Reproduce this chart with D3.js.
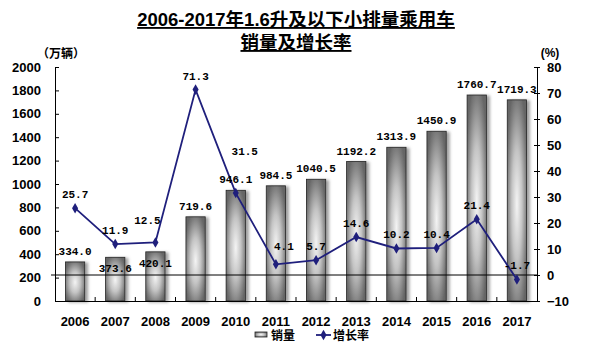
<!DOCTYPE html>
<html>
<head>
<meta charset="utf-8">
<script src="https://cdn.jsdelivr.net/npm/d3@7"></script>
<style>
  html, body { margin: 0; padding: 0; background: #fff; }
  svg { display: block; }
</style>
</head>
<body>
<div id="chart"></div>
<script>
// data
const years = ['2006', '2007', '2008', '2009', '2010', '2011', '2012', '2013', '2014', '2015', '2016', '2017'];
const sales = [334.0, 373.6, 420.1, 719.6, 946.1, 984.5, 1040.5, 1192.2, 1313.9, 1450.9, 1760.7, 1719.3];
const growth = [25.7, 11.9, 12.5, 71.3, 31.5, 4.1, 5.7, 14.6, 10.2, 10.4, 21.4, -1.7];
const leftTicks = [0, 200, 400, 600, 800, 1000, 1200, 1400, 1600, 1800, 2000];
const rightTicks = [-10, 0, 10, 20, 30, 40, 50, 60, 70, 80];

const W = 595, H = 351;
const PLOT = { left: 55, right: 537, top: 67, bottom: 301 };
const LINE_COLOR = '#1f1f7c';
const NUM_FONT = '"Liberation Mono", "DejaVu Sans Mono", monospace';
const TXT_FONT = '"Liberation Sans", Arial, "Noto Sans CJK SC", sans-serif';

// hand placed labels in the original (excel) — small nudges
const SALES_INSIDE = new Set(['2007', '2008']);
const GROWTH_NUDGE = { '2008': [-8, -9], '2010': [9, -28], '2011': [8, -4] };

const svg = d3.select('#chart').append('svg').attr('width', W).attr('height', H);

const defs = svg.append('defs');
const grad = defs.append('radialGradient').attr('id', 'barGrad')
  .attr('cx', '50%').attr('cy', '52%').attr('r', '60%');
grad.append('stop').attr('offset', '0%').attr('stop-color', '#f4f4f4');
grad.append('stop').attr('offset', '45%').attr('stop-color', '#c4c4c4');
grad.append('stop').attr('offset', '85%').attr('stop-color', '#7c7c7c');
grad.append('stop').attr('offset', '100%').attr('stop-color', '#666');

const shadow = defs.append('filter').attr('id', 'shadow')
  .attr('x', '-30%').attr('y', '-10%').attr('width', '180%').attr('height', '130%');
shadow.append('feDropShadow').attr('dx', 3).attr('dy', 1).attr('stdDeviation', 1.8)
  .attr('flood-color', '#777').attr('flood-opacity', 0.7);

// title
const title = svg.append('g').attr('font-family', TXT_FONT).attr('font-weight', 'bold')
  .attr('font-size', '18.5px').attr('text-anchor', 'middle').attr('fill', '#000');
title.append('text').attr('x', 296).attr('y', 26).attr('text-decoration', 'underline')
  .text('2006-2017年1.6升及以下小排量乘用车');
title.append('text').attr('x', 296).attr('y', 49).attr('text-decoration', 'underline')
  .text('销量及增长率');

const x = d3.scaleBand().domain(years).range([PLOT.left, PLOT.right]).padding(0);
const yL = d3.scaleLinear().domain([0, 2000]).range([PLOT.bottom, PLOT.top]);
const yR = d3.scaleLinear().domain([-10, 80]).range([PLOT.bottom, PLOT.top]);
const barW = x.bandwidth() * 0.48;
const cx = d => x(d) + x.bandwidth() / 2;

// bars
svg.append('g').selectAll('rect').data(years).join('rect')
  .attr('x', (d) => cx(d) - barW / 2)
  .attr('y', (d, i) => yL(sales[i]))
  .attr('width', barW)
  .attr('height', (d, i) => yL(0) - yL(sales[i]))
  .attr('fill', 'url(#barGrad)')
  .attr('stroke', '#222')
  .attr('stroke-width', 0.8)
  .attr('filter', 'url(#shadow)');

// zero line of the right axis
svg.append('line')
  .attr('x1', PLOT.left - 4).attr('x2', PLOT.right)
  .attr('y1', yR(0)).attr('y2', yR(0))
  .attr('stroke', '#000').attr('stroke-width', 1);

// axes
const axisFont = g => g.selectAll('text')
  .attr('font-family', TXT_FONT).attr('font-weight', 'bold')
  .attr('font-size', '13px').attr('fill', '#000');

const leftAxis = svg.append('g').attr('transform', `translate(${PLOT.left},0)`)
  .call(d3.axisLeft(yL).tickValues(leftTicks).tickFormat(d3.format('d'))
    .tickSizeInner(-4).tickSizeOuter(0).tickPadding(14));
leftAxis.call(axisFont);
leftAxis.selectAll('line, path').attr('stroke', '#000');

const rightAxis = svg.append('g').attr('transform', `translate(${PLOT.right},0)`)
  .call(d3.axisRight(yR).tickValues(rightTicks).tickFormat(d3.format('d'))
    .tickSizeOuter(0).tickSizeInner(3).tickPadding(7));
rightAxis.call(axisFont);
rightAxis.selectAll('line, path').attr('stroke', '#000');
rightAxis.selectAll('.tick line').attr('x1', -3);

const bottomAxis = svg.append('g').attr('transform', `translate(0,${PLOT.bottom})`)
  .call(d3.axisBottom(x).tickSize(0).tickPadding(16));
bottomAxis.call(axisFont);
bottomAxis.selectAll('path').attr('stroke', '#000');
// small category separators pointing up
svg.append('g').selectAll('line').data(years.slice(1)).join('line')
  .attr('x1', d => x(d)).attr('x2', d => x(d))
  .attr('y1', PLOT.bottom).attr('y2', PLOT.bottom - 4)
  .attr('stroke', '#000');

// unit labels
svg.append('text').attr('x', 61).attr('y', 58).attr('text-anchor', 'middle')
  .attr('font-family', TXT_FONT).attr('font-weight', 'bold').attr('font-size', '12px')
  .text('（万辆）');
svg.append('text').attr('x', 550).attr('y', 57).attr('text-anchor', 'middle')
  .attr('font-family', TXT_FONT).attr('font-weight', 'bold').attr('font-size', '12px')
  .text('(%)');

// growth line
const line = d3.line().x((d, i) => cx(years[i])).y(d => yR(d));
svg.append('path').datum(growth)
  .attr('d', line).attr('fill', 'none')
  .attr('stroke', LINE_COLOR).attr('stroke-width', 1.8);
const diamond = d3.symbol().type(d3.symbolDiamond).size(32);
svg.append('g').selectAll('path').data(growth).join('path')
  .attr('transform', (d, i) => `translate(${cx(years[i])},${yR(d)})`)
  .attr('d', diamond).attr('fill', LINE_COLOR);

// bar labels
const labels = svg.append('g').attr('font-family', NUM_FONT).attr('font-weight', 'bold')
  .attr('font-size', '11px').attr('text-anchor', 'middle').attr('fill', '#000');
labels.selectAll('text.sales').data(years).join('text')
  .attr('class', 'sales')
  .attr('x', d => cx(d))
  .attr('y', (d, i) => yL(sales[i]) + (SALES_INSIDE.has(d) ? 15 : -7))
  .text((d, i) => sales[i].toFixed(1));

// growth labels
labels.selectAll('text.growth').data(years).join('text')
  .attr('class', 'growth')
  .attr('x', d => cx(d) + (GROWTH_NUDGE[d] ? GROWTH_NUDGE[d][0] : 0))
  .attr('y', (d, i) => yR(growth[i]) - 10 + (GROWTH_NUDGE[d] ? GROWTH_NUDGE[d][1] : 0))
  .text((d, i) => growth[i].toFixed(1));

// legend
const legend = svg.append('g').attr('font-family', TXT_FONT).attr('font-weight', 'bold')
  .attr('font-size', '12px').attr('fill', '#000');
legend.append('rect').attr('x', 255).attr('y', 332).attr('width', 12).attr('height', 5)
  .attr('fill', 'url(#barGrad)').attr('stroke', '#222').attr('stroke-width', 0.8);
legend.append('text').attr('x', 271).attr('y', 340).text('销量');
legend.append('line').attr('x1', 316).attr('x2', 331).attr('y1', 335).attr('y2', 335)
  .attr('stroke', LINE_COLOR).attr('stroke-width', 1.8);
legend.append('path').attr('transform', 'translate(323.5,335)').attr('d', diamond)
  .attr('fill', LINE_COLOR);
legend.append('text').attr('x', 333).attr('y', 340).text('增长率');
</script>
</body>
</html>
